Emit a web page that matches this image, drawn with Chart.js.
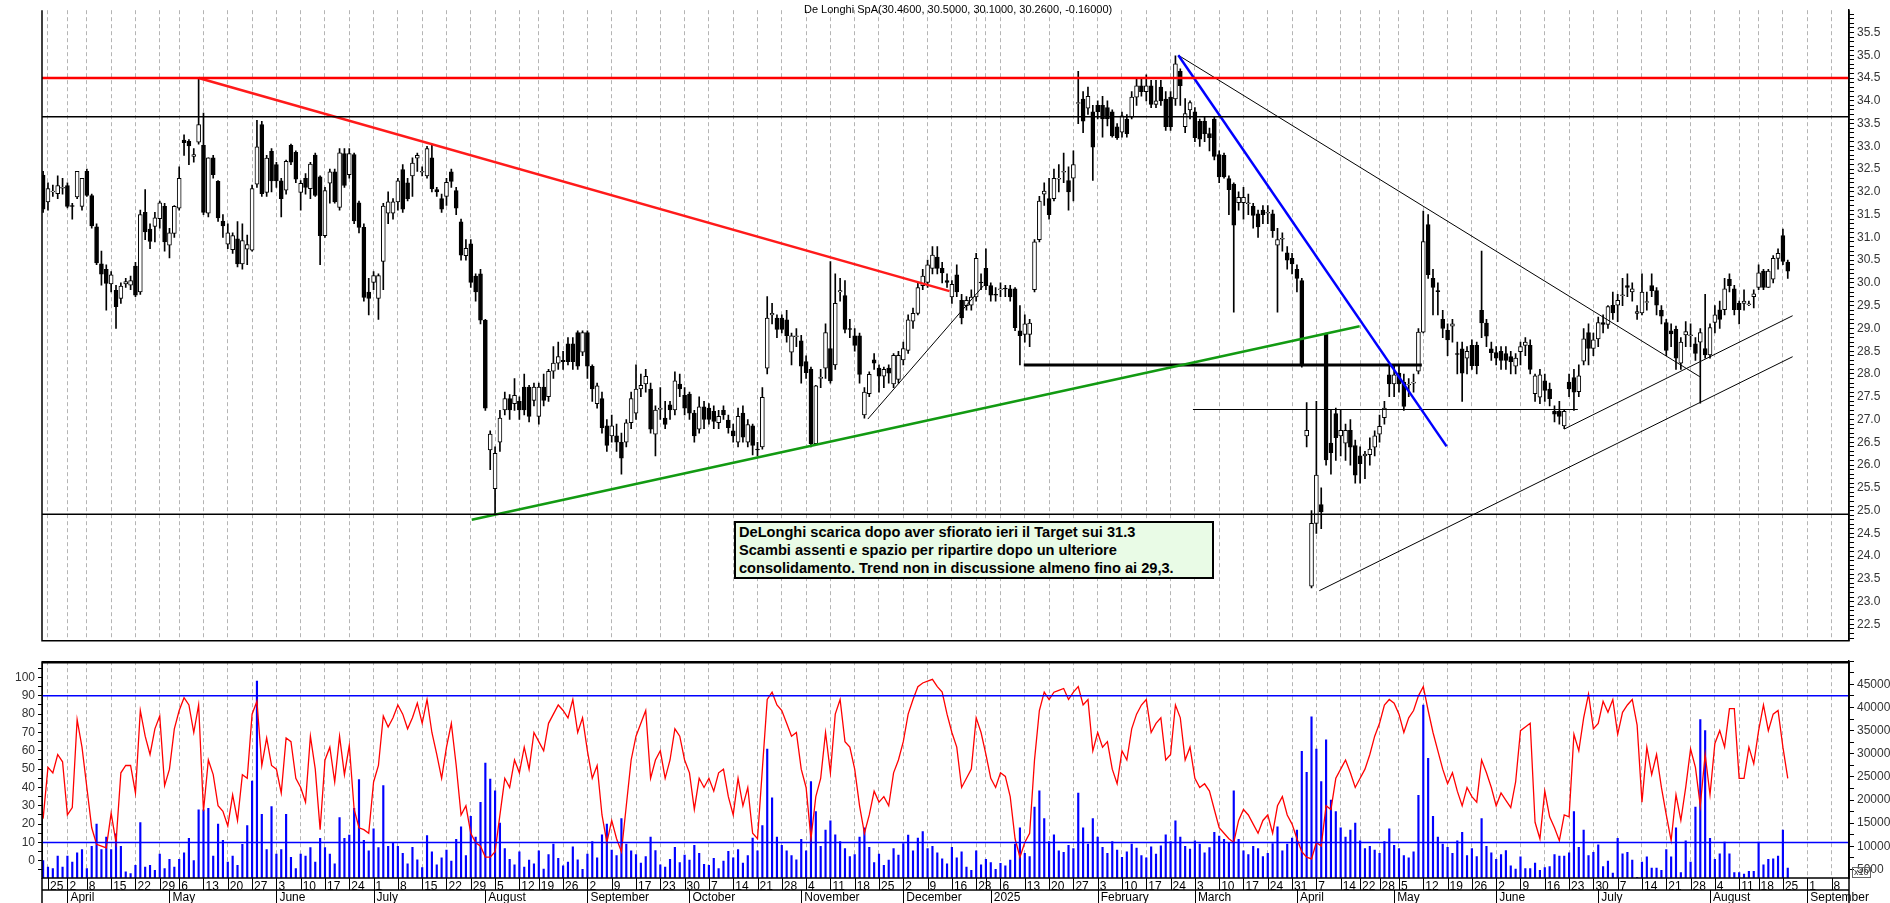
<!DOCTYPE html>
<html><head><meta charset="utf-8">
<script src="https://cdn.jsdelivr.net/npm/chart.js@4/dist/chart.umd.min.js"></script>
<style>
body{margin:0;background:#fff;width:1890px;height:903px;overflow:hidden;position:relative;font-family:"Liberation Sans",Arial,sans-serif}
.box{position:absolute}
#title{left:804px;top:3px;font-size:11px;color:#000;white-space:nowrap}
#note{left:734px;top:521px;width:473px;height:54px;background:#e9fbe6;border:2px solid #000;font-weight:bold;font-size:14.6px;line-height:18px;padding:0 0 0 3px;color:#000;white-space:nowrap}
#x10{left:1852px;top:867px;font-size:9px;border:1px solid #666;padding:0 1px;line-height:9px;color:#333}
</style></head><body>
<div class="box" style="left:0;top:0"><canvas id="price" width="1890" height="651"></canvas></div>
<div class="box" style="left:0;top:651px"><canvas id="lower" width="1890" height="252"></canvas></div>
<div class="box" id="title">De Longhi SpA(30.4600, 30.5000, 30.1000, 30.2600, -0.16000)</div>
<div class="box" id="note">DeLonghi scarica dopo aver sfiorato ieri il Target sui 31.3<br>Scambi assenti e spazio per ripartire dopo un ulteriore<br>consolidamento. Trend non in discussione almeno fino ai 29,3.</div>
<div class="box" id="x10">x10</div>
<script>
// trading-day index of the first candle (Mar 22 2024); Mar 25 2024 = 0
const firstIdx = -1;
const XMIN = -1.23, XMAX = 370.6;

// week labels (Mondays) and trading days in each week
const weekLabels = ["25","2","8","15","22","29","6","13","20","27","3","10","17","24","1","8","15","22","29","5","12","19","26","2","9","17","23","30","7","14","21","28","4","11","18","25","2","9","16","23","","6","13","20","27","3","10","17","24","3","10","17","24","31","7","14","22","28","5","12","19","26","2","9","16","23","30","7","14","21","28","4","11","18","25","1","8"];
const weekDays = [4,4,5,5,5,4,5,5,5,5,5,5,5,5,5,5,5,5,5,5,4,5,5,5,5,5,5,5,5,5,5,5,5,5,5,5,5,5,5,2,3,5,5,5,5,5,5,5,5,5,5,5,5,5,5,4,4,4,5,5,5,5,5,5,5,5,5,5,5,5,5,5,4,5,5,5,5];
const monthNames = ["April","May","June","July","August","September","October","November","December","2025","February","March","April","May","June","July","August","September"];
const monthStart = [4,25,47,67,90,111,132,155,176,194,216,236,257,277,298,319,342,362];

const opens = [
32.37,31.78,32.0,31.96,32.08,32.14,31.7,31.89,31.68,32.45,
31.92,31.23,30.42,30.3,29.98,29.84,29.66,29.98,29.95,30.37,
29.8,31.55,31.18,31.24,31.41,31.68,30.83,31.09,31.64,33.14,
33.11,32.78,33.09,33.02,31.53,32.75,32.23,31.36,30.85,30.73,
30.97,30.42,30.74,30.72,32.17,33.48,31.99,32.89,32.6,32.24,
32.04,33.02,32.87,31.99,32.3,32.07,32.81,32.33,31.04,32.19,
32.44,31.66,32.84,32.38,32.82,31.76,31.22,29.8,30.01,29.66,
30.47,31.53,31.53,31.78,32.49,32.2,32.35,32.74,32.43,32.35,
32.75,32.05,31.85,31.9,32.44,32.03,31.34,30.6,30.86,30.15,
30.2,29.18,26.33,25.48,26.5,27.21,27.46,27.35,27.4,27.71,
27.71,27.42,27.07,27.71,27.5,28.06,28.24,28.3,28.66,28.66,
28.91,28.48,28.91,28.17,27.35,27.46,26.86,26.64,26.64,26.5,
26.5,26.93,27.14,27.67,27.78,27.67,26.68,27.22,27.03,27.32,
27.21,27.78,27.53,27.56,27.14,26.79,27.28,27.25,27.18,26.93,
27.2,26.99,26.75,26.5,27.14,26.5,26.86,26.35,26.4,28.13,
29.3,29.23,29.23,29.19,28.48,28.82,28.73,28.27,28.1,26.47,
27.9,28.13,28.56,28.2,29.8,29.72,29.0,28.84,28.84,27.1,
27.57,28.31,28.13,27.95,28.13,27.78,27.88,28.31,28.52,29.16,
29.33,29.94,30.01,30.32,30.57,30.32,30.05,29.69,30.18,29.62,
29.5,29.51,29.69,30.02,30.32,29.94,29.75,29.85,29.88,29.87,
29.87,28.95,28.87,28.87,29.85,30.95,31.95,31.85,31.85,32.28,
32.43,32.25,32.3,33.94,34.04,33.84,33.76,33.9,33.9,33.85,
33.76,33.43,33.31,33.6,33.64,34.08,34.33,34.2,34.33,33.92,
34.3,34.04,34.08,34.04,34.65,33.43,33.8,33.76,33.55,33.55,
33.28,33.6,32.82,32.8,32.29,32.17,31.76,31.76,31.74,31.68,
31.52,31.6,31.53,31.52,30.83,30.96,30.66,30.54,30.3,30.05,
26.64,23.34,24.72,25.13,28.89,26.48,27.13,26.64,26.48,26.76,
26.43,26.2,26.2,26.23,26.39,26.68,27.04,27.98,27.78,28.02,
27.82,27.76,27.8,28.06,28.92,31.28,30.1,29.83,29.2,28.96,
29.05,28.45,28.55,28.35,28.63,28.63,29.4,29.12,28.55,28.47,
28.5,28.45,28.38,28.17,28.49,28.63,28.63,27.57,27.49,27.85,
27.67,27.18,27.18,26.86,27.82,27.92,27.61,28.28,28.91,28.56,
28.77,29.13,29.09,29.51,29.51,29.72,29.94,29.8,29.33,29.34,
29.57,29.94,29.83,29.4,29.13,28.95,28.98,28.24,28.86,28.84,
28.66,28.7,28.56,28.42,29.13,29.41,29.41,30.08,29.87,29.55,
29.55,29.52,29.7,29.9,30.26,29.9,30.08,30.54,31.04,30.46];
const highs = [
32.45,32.2,32.15,32.35,32.3,32.2,31.75,32.45,32.3,32.5,
31.95,31.3,30.7,30.4,30.25,29.95,30.0,30.1,30.15,30.45,
31.6,32.05,31.3,31.55,31.8,31.75,31.2,31.7,32.55,33.25,
33.15,32.95,34.5,33.73,32.75,32.8,32.25,31.5,31.3,31.1,
31.35,31.3,31.05,32.15,33.57,33.55,32.8,32.95,32.65,32.3,
32.7,33.05,32.9,32.25,32.4,32.65,32.85,32.35,32.1,32.5,
32.5,32.95,32.95,32.95,32.85,31.8,31.3,30.1,30.25,30.2,
31.75,32.0,31.85,32.3,32.6,32.3,32.75,32.85,32.55,33.0,
33.05,32.1,31.95,32.3,32.5,32.1,31.4,30.95,30.95,30.2,
30.3,29.2,26.75,26.4,27.2,27.6,27.55,27.9,27.5,28.0,
27.75,27.8,27.8,28.0,28.1,28.6,28.7,28.5,28.8,28.8,
28.95,28.95,28.95,28.2,27.8,27.6,27.0,27.1,26.9,26.7,
27.0,27.6,28.2,28.0,28.1,27.8,27.3,27.7,27.4,27.4,
28.05,28.0,27.7,27.6,27.2,27.5,27.4,27.35,27.3,27.2,
27.3,27.1,26.9,27.25,27.3,27.0,26.9,26.5,27.7,29.7,
29.55,29.3,29.3,29.4,28.9,29.0,28.85,28.4,28.15,27.75,
28.1,29.1,30.47,30.2,30.1,30.05,29.2,29.0,28.9,27.7,
28.05,28.45,28.2,28.15,28.2,28.45,28.5,28.7,29.3,29.45,
30.0,30.3,30.5,30.8,30.8,30.45,30.2,30.05,30.4,29.75,
29.7,29.85,30.65,30.2,30.75,30.0,29.9,30.0,29.95,29.95,
29.9,29.5,29.3,29.2,30.95,31.9,32.2,32.3,32.5,32.6,
32.85,32.55,32.9,34.65,34.2,34.3,33.9,34.0,34.1,34.0,
33.8,33.5,33.75,33.7,34.2,34.5,34.5,34.57,34.45,34.45,
34.45,34.2,34.2,34.99,34.7,34.05,34.0,33.85,33.6,33.65,
33.4,33.65,32.9,32.85,32.35,32.2,32.0,32.1,31.95,31.75,
31.6,31.7,31.7,31.6,31.2,31.1,30.8,30.65,30.4,30.1,
27.37,25.0,27.4,25.5,28.9,27.2,27.25,27.2,26.9,27.0,
26.55,26.4,26.3,26.6,26.75,27.1,27.4,28.2,28.2,28.2,
28.0,27.9,28.0,29.0,31.58,31.5,30.3,30.0,29.4,29.1,
29.2,28.7,28.7,28.6,28.75,28.7,30.7,29.2,28.7,28.6,
28.6,28.6,28.5,28.45,28.7,28.8,28.75,28.0,28.1,28.0,
27.8,27.3,27.4,27.2,28.0,28.1,28.2,29.0,29.1,28.9,
29.25,29.3,29.5,29.8,29.75,30.1,30.2,30.0,29.5,30.2,
29.8,30.2,29.9,29.5,29.2,29.1,29.05,28.8,29.15,29.1,
28.8,29.0,29.75,29.1,29.5,29.6,30.1,30.2,29.95,29.6,
29.85,29.6,29.85,30.4,30.3,30.3,30.6,30.75,31.18,30.5];
const lows = [
31.55,31.6,31.9,31.85,31.95,31.65,31.4,31.85,31.6,31.9,
31.2,30.4,29.95,29.4,29.8,29.0,29.55,29.9,29.85,29.7,
29.75,30.95,30.75,30.9,31.2,30.7,30.55,31.0,31.6,32.8,
32.6,32.65,33.05,31.5,31.45,32.3,31.35,31.0,30.75,30.65,
30.35,30.3,30.4,30.7,32.1,31.9,31.9,32.0,32.1,31.45,
31.95,32.6,32.2,31.6,31.95,31.85,31.9,30.4,31.0,31.75,
31.75,31.6,32.1,32.3,31.3,31.1,29.6,29.3,29.85,29.2,
29.85,31.3,31.4,31.6,31.55,31.8,31.9,32.45,32.35,32.3,
32.0,31.9,31.55,31.7,32.1,31.5,30.5,30.5,29.9,29.6,
29.1,27.2,25.9,24.91,26.3,27.1,27.0,27.2,27.0,27.1,
26.95,27.3,26.9,27.3,27.4,27.9,28.1,28.1,28.2,28.1,
28.1,28.4,27.9,27.4,27.25,26.7,26.3,26.5,26.3,25.8,
26.4,26.8,27.0,27.5,27.6,26.7,26.2,27.0,26.8,27.0,
27.1,27.5,27.1,27.0,26.5,26.7,26.8,26.9,26.8,26.8,
27.0,26.7,26.5,26.4,26.5,26.4,26.22,26.2,26.35,28.0,
29.1,28.8,28.9,28.7,28.2,28.6,27.8,27.9,26.4,26.45,
27.7,27.9,27.8,28.1,29.6,28.9,28.8,28.5,27.8,27.03,
27.5,28.1,27.6,27.7,27.8,27.7,27.8,28.2,28.45,29.0,
29.3,29.85,29.9,30.2,30.2,30.0,29.9,29.55,29.7,29.1,
29.4,29.4,29.6,29.85,29.85,29.6,29.6,29.7,29.7,29.6,
28.95,28.2,28.7,28.6,29.8,30.9,31.7,31.4,31.8,32.0,
32.2,31.6,31.8,33.5,33.3,33.7,32.25,33.6,33.2,33.45,
33.2,33.15,33.2,33.2,33.6,33.9,34.1,34.0,33.85,33.85,
33.9,33.35,33.35,33.9,33.9,33.3,33.6,33.1,33.0,33.1,
32.9,32.7,32.2,32.3,31.5,29.36,31.6,31.4,31.5,31.2,
31.0,31.3,31.3,31.0,29.36,30.7,30.3,30.2,29.8,28.15,
26.4,23.3,24.5,24.6,26.0,25.8,26.1,26.2,26.1,26.0,
25.6,25.6,25.7,26.0,26.2,26.5,26.9,27.5,27.5,27.6,
27.2,27.5,27.6,28.0,28.9,30.1,29.3,29.3,28.8,28.4,
28.7,28.0,27.4,28.0,28.1,28.0,28.8,28.6,28.3,28.2,
28.1,28.1,28.0,28.0,28.2,28.4,28.0,27.4,27.35,27.4,
27.3,26.95,26.9,26.8,27.5,27.2,27.5,28.2,28.2,28.4,
28.6,28.9,29.0,29.2,29.15,29.5,29.7,29.6,29.2,29.3,
29.4,29.7,29.3,29.1,28.4,28.6,28.1,28.1,28.6,28.6,
28.3,27.36,28.35,28.35,28.9,29.0,29.3,29.8,29.3,29.1,
29.4,29.5,29.45,29.85,29.85,29.9,30.0,30.3,30.4,30.1];
const closes = [
31.62,32.07,32.02,32.14,32.1,31.68,31.68,32.45,32.3,31.92,
31.25,30.44,30.19,29.99,30.18,29.48,29.93,30.03,30.05,29.73,
31.5,31.12,30.91,31.43,31.76,30.9,31.1,31.68,32.3,33.08,
33.01,32.82,33.48,31.55,32.75,32.38,31.43,31.25,31.1,31.04,
30.42,30.93,30.84,32.07,32.99,31.96,32.74,32.24,32.24,31.85,
32.67,32.65,32.28,32.19,32.1,32.61,31.92,31.04,32.03,32.44,
31.78,32.86,32.14,32.84,31.36,31.22,29.68,29.66,30.16,30.16,
31.69,31.78,31.78,32.24,31.62,31.85,32.63,32.8,32.45,32.95,
32.07,32.0,31.62,32.21,32.23,31.64,30.61,30.76,30.01,29.8,
29.18,27.25,26.68,26.26,27.03,27.46,27.21,27.53,27.21,27.21,
27.07,27.71,27.71,27.42,28.06,28.24,28.38,28.27,28.27,28.27,
28.17,28.91,28.17,27.67,27.74,26.82,26.43,26.86,26.5,26.15,
26.93,27.46,27.67,27.75,27.95,26.79,27.21,27.25,26.89,27.21,
27.85,27.67,27.25,27.14,26.64,27.28,27.0,27.0,26.96,27.07,
27.1,26.82,26.64,27.07,26.61,26.89,26.43,26.33,27.49,29.23,
29.33,28.98,28.98,28.84,28.84,28.84,28.17,28.03,26.47,27.74,
27.93,28.91,27.85,29.55,29.83,28.98,28.98,28.63,27.99,27.6,
27.99,28.24,27.95,28.1,28.02,28.41,28.41,28.56,29.19,29.33,
29.9,30.15,30.4,30.61,30.32,30.22,30.01,29.97,29.8,29.23,
29.62,29.69,30.54,30.0,29.94,29.73,29.73,29.87,29.87,29.69,
29.02,28.84,29.1,29.12,30.9,31.8,32.02,31.5,32.3,32.3,
32.45,32.0,32.6,33.96,33.55,34.1,32.98,33.76,33.6,33.6,
33.23,33.19,33.67,33.28,34.08,34.33,34.2,34.33,33.92,34.0,
34.0,33.43,33.43,34.81,34.33,33.72,33.96,33.19,33.16,33.28,
33.19,32.78,32.33,32.33,32.05,31.27,31.88,31.88,31.76,31.48,
31.23,31.5,31.55,31.15,30.95,30.98,30.5,30.42,30.1,28.2,
26.76,24.72,25.78,24.97,26.11,26.27,26.6,26.76,26.76,26.39,
25.78,26.03,26.24,26.35,26.64,26.85,27.25,27.78,27.98,27.78,
27.29,27.78,27.82,28.92,30.91,30.18,29.9,29.81,29.0,28.75,
29.1,28.43,28.02,28.5,28.18,28.18,29.12,28.83,28.47,28.35,
28.3,28.3,28.27,28.35,28.6,28.7,28.1,27.96,27.98,27.64,
27.46,27.12,27.07,27.18,27.67,27.6,27.96,28.77,28.56,28.75,
29.13,29.09,29.48,29.34,29.62,29.74,29.9,29.87,29.37,29.8,
29.59,29.83,29.51,29.27,28.52,28.88,28.35,28.7,28.93,28.86,
28.45,28.91,28.42,29.02,29.3,29.2,29.87,29.94,29.41,29.41,
29.6,29.54,29.76,30.22,29.9,30.26,30.54,30.65,30.47,30.26];

// oscillator (0-100) and volume in thousands, one per candle
const osc = [
23,51,48,58,54,25,29,77,62,40, 18,9,8,7,26,10,48,52,52,37,
82,68,58,72,79,41,50,72,82,89, 85,70,85,27,55,47,30,27,19,36,
22,47,45,80,87,52,67,52,50,37, 67,65,45,40,32,68,50,17,55,62,
43,68,47,63,28,18,17,15,43,52, 79,73,78,85,80,72,78,86,75,88,
70,58,45,62,75,52,25,30,15,10, 8,2,2,5,25,45,40,55,48,62,
50,70,65,60,75,80,85,82,78,88, 70,78,60,45,52,25,10,22,12,5,
30,55,68,75,82,45,55,60,45,55, 72,68,55,48,28,45,40,45,38,48,
50,35,25,45,30,40,15,12,50,88, 92,85,82,75,68,70,50,40,12,35,
45,70,48,80,88,65,62,50,30,15, 25,38,32,35,30,48,55,65,80,88,
95,97,98,99,95,92,80,70,62,40, 45,50,78,70,58,45,40,48,46,35,
12,2,10,15,55,82,92,88,92,93, 94,88,92,95,85,88,60,70,62,65,
50,42,60,55,72,80,85,88,70,75, 78,55,58,85,78,55,62,45,40,42,
38,28,18,15,12,10,22,28,25,20, 15,22,25,15,30,35,25,20,12,5,
2,1,10,8,30,28,45,50,55,48, 40,45,50,58,68,75,85,88,86,80,
70,78,82,90,95,82,70,60,50,42, 48,38,30,40,35,32,55,48,40,30,
37,33,29,43,71,73,75,21,12,38, 24,18,11,25,24,69,60,78,91,72,
75,87,81,88,69,81,85,88,74,32, 62,47,58,40,25,11,36,22,40,61,
51,30,58,36,64,71,62,83,83,45, 45,62,53,71,85,71,80,82,62,45];
const volK = [
6.9,5.5,5.2,7.9,5.5,7.9,6.6,8.6,9.3,5.2, 10.0,14.8,9.3,12.0,9.3,12.7,10.0,4.5,4.1,5.9,
15.1,5.5,5.9,4.8,8.3,5.2,7.2,5.5,7.2,8.6, 11.7,6.9,17.9,17.9,18.2,7.9,14.8,11.3,6.6,7.9,
5.9,10.4,14.5,24.1,45.7,16.9,9.3,18.6,8.3,9.3, 16.9,7.6,5.2,8.3,7.9,9.7,6.6,11.7,9.7,8.3,
6.2,16.2,11.7,12.4,18.2,24.4,11.3,9.0,13.8,9.7, 23.1,10.0,10.7,10.0,
8.5,6.2,9.8,7.1,5.4,12.3,8.8,6.0,7.5,9.2, 6.8,11.5,14.2,8.0,16.5,12.0,19.5,28.0,24.5,22.0,
15.0,9.5,7.2,6.0,8.8,5.5,7.0,6.2,9.0,5.1, 8.2,10.5,7.4,5.8,6.6,9.9,7.1,5.0,8.3,11.0,
7.5,12.5,14.8,9.2,8.0,16.0,10.5,9.0,8.2,6.4, 7.8,12.0,9.1,6.0,5.5,7.2,9.8,6.5,8.1,7.0,
10.2,8.5,6.1,5.9,7.4,5.2,6.8,8.9,7.5,9.3, 6.4,8.0,11.8,9.0,14.5,31.0,20.5,12.0,10.2,9.0,
8.0,7.1,11.5,9.0,24.0,17.5,10.0,13.5,15.5,12.5, 11.0,9.5,7.8,8.2,12.0,14.0,9.8,6.5,8.3,5.9,
7.0,9.5,8.1,10.6,12.4,9.0,11.8,13.2,9.5,10.0, 8.6,7.3,6.2,9.8,7.5,8.8,5.5,4.8,9.0,6.0,
7.2,6.5,5.0,6.3,5.8,7.0,10.5,14.0,8.5,7.8, 18.5,22.0,16.0,11.0,12.5,9.0,8.7,10.2,9.5,21.5,
14.0,10.5,16.0,12.0,9.8,8.5,11.0,9.2,7.6,8.8, 10.5,9.6,8.0,7.5,9.9,8.3,10.1,12.5,11.0,15.5,
12.0,10.0,9.4,11.2,10.5,8.6,9.7,13.0,12.2,11.5, 10.8,22.0,11.5,9.0,8.2,10.0,9.5,7.8,8.5,10.6,
14.2,9.0,10.5,11.8,13.5,30.5,26.0,38.0,31.0,24.0, 33.0,20.0,17.5,14.0,12.0,13.5,15.0,11.2,9.5,10.0,
9.2,8.5,11.0,13.8,10.2,9.5,8.0,7.5,8.8,21.0, 40.5,29.0,16.5,12.0,10.5,9.8,8.5,11.2,13.0,8.0,
9.5,7.8,16.0,10.0,8.6,7.2,
8.2,9.1,5.8,5.1,7.7,5.2,5.2,6.4,4.8,5.4, 5.6,8.2,7.9,7.9,8.6,17.5,9.8,13.5,8.0,8.7,
10.3,5.6,6.8,4.2,11.7,8.4,8.7,7.0,3.3,6.6, 7.7,5.3,5.3,4.8,9.3,7.7,14.0,4.3,11.2,6.6,
18.5,37.4,35.0,11.7,7.2,8.4,10.9,8.4,4.3,4.3, 4.0,4.6,4.6,10.9,6.0,7.2,7.3,7.9,13.5,5.3];

// drawn trend / support lines: [dayIndex, price]
const redTrend = [[31,34.5],[185.5,29.82]];
const greenTrend = [[87.2,24.8],[269.9,29.05]];
const smallUp = [[168.7,27.01],[192.5,29.94]];
const blueTrend = [[232.6,35.0],[287.8,26.41]];
const thinDown = [[232.6,35.0],[339.9,27.94]];
const thickFlat = [[200.8,28.2],[282.7,28.2]];
const thinFlat = [[235.6,27.22],[314.8,27.22]];
const chanLow = [[261.6,23.24],[359,28.38]];
const chanHigh = [[312,26.79],[359,29.28]];
const levels = [34.5, 33.65, 24.92];
const oscBands = [90, 10];

const weekStart = [];
weekDays.reduce((s, d) => { weekStart.push(s); return s + d; }, 0);
const idx = opens.map((_, n) => n + firstIdx);
const FONT = {family: '"Liberation Sans", Arial, sans-serif', size: 12};

const pts = a => a.map(p => ({x: p[0], y: p[1]}));
const seg = (data, color, w, yID) => ({type:'line', data: pts(data), borderColor: color, borderWidth: w,
  pointRadius: 0, fill: false, yAxisID: yID || 'y', order: 0});

const framePlugin = {
  id: 'frame',
  afterDraw(c, args, o) {
    const a = c.chartArea, ctx = c.ctx;
    ctx.save(); ctx.strokeStyle = '#000'; ctx.lineWidth = o.width || 1.5;
    ctx.beginPath();
    ctx.moveTo(a.left, a.top); ctx.lineTo(a.left, a.bottom); ctx.lineTo(a.right, a.bottom); ctx.lineTo(a.right, a.top);
    ctx.stroke();
    ctx.restore();
  }
};

const weekGrid = {
  color: '#b4b4b4', drawTicks: false, offset: false
};
function weekTicks(s) { s.ticks = weekStart.map(v => ({value: v})); }

new Chart(document.getElementById('price'), {
  type: 'bar',
  data: {datasets: [
    ...levels.map((v, n) => seg([[XMIN, v], [XMAX, v]], n === 0 ? '#ff0000' : '#000', n === 0 ? 2.5 : 1.5)),
    seg(redTrend, '#ff1a1a', 2.5),
    seg(greenTrend, '#129a12', 2.5),
    seg(smallUp, '#000', 1),
    seg(blueTrend, '#0000ff', 2.5),
    seg(thinDown, '#000', 1),
    seg(thickFlat, '#000', 3),
    seg(thinFlat, '#000', 1.2),
    seg(chanLow, '#000', 1),
    seg(chanHigh, '#000', 1),
    {type:'bar', data: idx.map((x, n) => ({x, y: [lows[n], highs[n]]})), backgroundColor: '#000',
     barThickness: 1, grouped: false, order: 2},
    {type:'bar', data: idx.map((x, n) => ({x, y: [opens[n], closes[n]]})),
     backgroundColor: idx.map((x, n) => closes[n] < opens[n] ? '#000' : '#fff'),
     borderColor: '#000', borderWidth: 1, borderSkipped: false, barThickness: 4, grouped: false, order: 1}
  ]},
  options: {
    responsive: false, animation: false,
    layout: {padding: {left: 42, top: 0, right: 0, bottom: 0}},
    plugins: {legend: {display: false}, tooltip: {enabled: false}, frame: {width: 1.5}},
    scales: {
      x: {type: 'linear', min: XMIN, max: XMAX, offset: false, afterBuildTicks: weekTicks,
          grid: weekGrid, border: {display: false, dash: [4, 3]}, ticks: {display: false},
          afterFit: s => { s.height = 0; }},
      y: {position: 'right', min: 22.14, max: 35.99,
          afterBuildTicks: s => { const t = []; for (let v = 222; v <= 359; v++) t.push({value: v / 10}); s.ticks = t; },
          ticks: {autoSkip: false, font: FONT, color: '#333', padding: 3,
                  callback: v => (Math.round(v * 10) % 5 === 0 ? v.toFixed(1) : '')},
          grid: {drawOnChartArea: false, tickLength: 5, color: '#000'},
          border: {color: '#000', width: 1.5},
          afterFit: s => { s.width = 41; }}
    }
  },
  plugins: [framePlugin]
});

const rowsPlugin = {
  id: 'rows',
  afterDraw(c) {
    const x = c.scales.x, m = c.scales.xM, ctx = c.ctx, a = c.chartArea;
    ctx.save(); ctx.strokeStyle = '#000'; ctx.lineWidth = 1;
    const line = (x1, y1, x2, y2) => { ctx.beginPath(); ctx.moveTo(x1, y1); ctx.lineTo(x2, y2); ctx.stroke(); };
    weekStart.forEach(v => { const p = Math.round(x.getPixelForValue(v)) + 0.5; if (p > a.left && p < a.right) line(p, x.top, p, x.bottom); });
    monthStart.forEach(v => { const p = Math.round(m.getPixelForValue(v)) + 0.5; if (p > a.left && p < a.right) line(p, m.top, p, m.bottom); });
    ctx.lineWidth = 1.5;
    line(a.left, x.bottom, a.right, x.bottom);
    line(a.right, a.top, a.right, c.height);
    line(a.left, a.bottom, a.left, c.height);
    ctx.lineWidth = 2.5;
    line(a.left, a.top + 1, a.right, a.top + 1);
    ctx.restore();
  }
};

new Chart(document.getElementById('lower'), {
  type: 'bar',
  data: {datasets: [
    ...oscBands.map(v => seg([[XMIN, v], [XMAX, v]], '#0000ff', 1.5, 'yO')),
    {type:'line', data: idx.map((x, n) => ({x, y: osc[n]})), borderColor: '#ff0000', borderWidth: 1.3,
     pointRadius: 0, fill: false, yAxisID: 'yO', order: 0},
    {type:'bar', data: idx.map((x, n) => ({x, y: volK[n]})), backgroundColor: '#0000ff',
     barThickness: 1.5, grouped: false, yAxisID: 'yV', order: 1}
  ]},
  options: {
    responsive: false, animation: false,
    layout: {padding: 0},
    plugins: {legend: {display: false}, tooltip: {enabled: false}, frame: {width: 1.5}},
    scales: {
      x: {type: 'linear', position: 'bottom', weight: 0, min: XMIN, max: XMAX, offset: false,
          afterBuildTicks: weekTicks, grid: weekGrid, border: {display: false, dash: [4, 3]},
          ticks: {autoSkip: false, maxRotation: 0, align: 'start', labelOffset: 2, padding: 1,
                  font: FONT, color: '#000', callback: (v, n) => weekLabels[n]},
          afterFit: s => { s.height = 12; }},
      xM: {type: 'linear', position: 'bottom', weight: 1, min: XMIN, max: XMAX, offset: false,
          afterBuildTicks: s => { s.ticks = monthStart.map(v => ({value: v})); },
          grid: {display: false, drawTicks: false}, border: {display: false},
          ticks: {autoSkip: false, maxRotation: 0, align: 'start', labelOffset: 3, padding: 0,
                  font: FONT, color: '#000', callback: (v, n) => monthNames[n]},
          afterFit: s => { s.height = 13; }},
      yO: {position: 'left', min: -9.4, max: 108.9,
          afterBuildTicks: s => { const t = []; for (let v = -5; v <= 105; v += 5) t.push({value: v}); s.ticks = t; },
          ticks: {autoSkip: false, font: FONT, color: '#333', padding: 3,
                  callback: v => (v >= 0 && v <= 100 && v % 10 === 0 ? String(v) : '')},
          grid: {drawOnChartArea: false, tickLength: 4, color: '#000'},
          border: {color: '#000'},
          afterFit: s => { s.width = 42; }},
      yV: {position: 'right', min: 3.15, max: 50,
          afterBuildTicks: s => { const t = []; for (let v = 5; v <= 50; v += 2.5) t.push({value: v}); s.ticks = t; },
          ticks: {autoSkip: false, font: FONT, color: '#333', padding: 3,
                  callback: v => (v % 5 === 0 && v <= 45 ? String(v * 1000) : '')},
          grid: {drawOnChartArea: false, tickLength: 5, color: '#000'},
          border: {color: '#000', width: 1.5},
          afterFit: s => { s.width = 41; }}
    }
  },
  plugins: [framePlugin, rowsPlugin]
});
</script>
</body></html>
